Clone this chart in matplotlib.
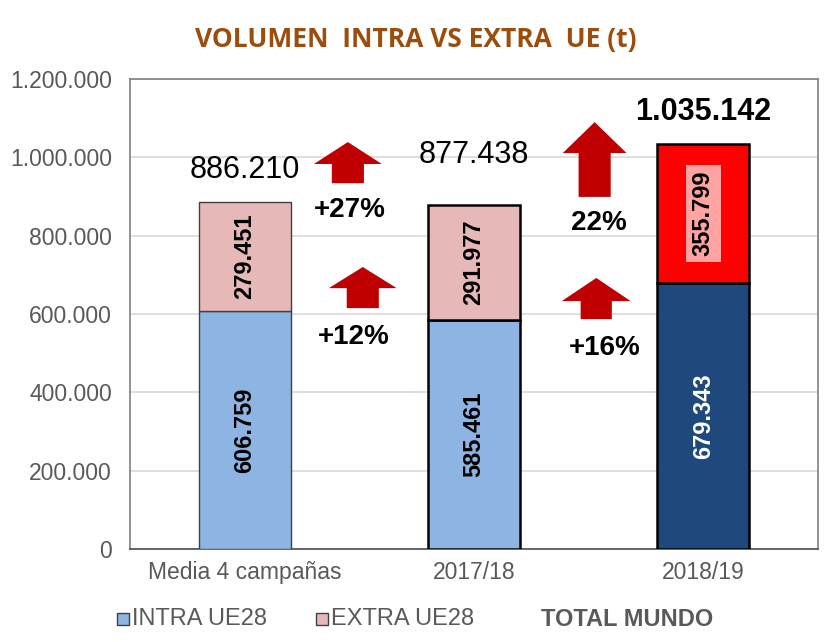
import matplotlib
matplotlib.use("Agg")
import matplotlib.pyplot as plt
from matplotlib.patches import Polygon, Rectangle
from matplotlib.ticker import FuncFormatter

plt.rcParams['font.family'] = ['Liberation Sans', 'DejaVu Sans']

categories = ["Media 4 campañas", "2017/18", "2018/19"]
intra = [606759, 585461, 679343]
extra = [279451, 291977, 355799]
totals = [886210, 877438, 1035142]
total_labels = ["886.210", "877.438", "1.035.142"]
pct_labels = ["+27%", "+12%", "22%", "+16%"]
legend_labels = ["INTRA UE28", "EXTRA UE28", "TOTAL MUNDO"]
title = "VOLUMEN  INTRA VS EXTRA  UE (t)"

intra_colors = ["#8EB4E3", "#8EB4E3", "#1F497D"]
extra_colors = ["#E6B9B8", "#E6B9B8", "#FF0000"]
edge_colors = ["#404040", "black", "black"]
edge_widths = [1.0, 1.8, 1.8]
gray = "#595959"

def fmt(v):
    return f"{int(round(v)):,}".replace(",", ".")

fig = plt.figure(figsize=(8.36, 6.42), dpi=100)
ax = fig.add_axes([0.1555, 0.1449, 0.823, 0.732])

x = list(range(len(categories)))
w = 0.40
for i in x:
    ax.bar(i, intra[i], w, color=intra_colors[i], edgecolor=edge_colors[i],
           linewidth=edge_widths[i], zorder=3)
    ax.bar(i, extra[i], w, bottom=intra[i], color=extra_colors[i],
           edgecolor=edge_colors[i], linewidth=edge_widths[i], zorder=3)
    ax.text(i, intra[i] / 2, fmt(intra[i]), rotation=90, ha='center', va='center',
            fontsize=17, fontweight='bold',
            color='white' if i == 2 else 'black', zorder=5)
    kw = {}
    if i == 2:
        kw['bbox'] = dict(boxstyle='square,pad=0.25', facecolor='#FFA3A3', edgecolor='none')
    ax.text(i, intra[i] + extra[i] / 2, fmt(extra[i]), rotation=90, ha='center',
            va='center', fontsize=17, fontweight='bold', color='black', zorder=5, **kw)

offsets = [32, 50, 32]
for i in x:
    ax.annotate(total_labels[i], xy=(i, totals[i]), xytext=(0, offsets[i]),
                textcoords='offset pixels', ha='center', va='center', fontsize=22,
                fontweight='bold' if i == 2 else 'normal', color='black', zorder=6)

# arrows: (center x, head half width, stem half width, tip y, head base y, bottom y)
arrows = [
    (0.450, 0.148, 0.070, 1039000, 983000, 934000),
    (0.515, 0.148, 0.070, 720000, 666000, 615000),
    (1.526, 0.139, 0.070, 1090000, 1011000, 899000),
    (1.533, 0.150, 0.068, 692000, 633000, 587000),
]
for cx, hw, sw, tip, base, bot in arrows:
    pts = [(cx, tip), (cx + hw, base), (cx + sw, base), (cx + sw, bot),
           (cx - sw, bot), (cx - sw, base), (cx - hw, base)]
    ax.add_patch(Polygon(pts, closed=True, facecolor='#C00000', edgecolor='none', zorder=4))

pct_pos = [(0.459, 865500), (0.476, 541000), (1.544, 832000), (1.570, 513000)]
for (px, py), lab in zip(pct_pos, pct_labels):
    ax.text(px, py, lab, ha='center', va='center', fontsize=20, fontweight='bold',
            color='black', zorder=6)

ax.set_xlim(-0.5, 2.5)
ax.set_ylim(0, 1200000)
ax.set_yticks(range(0, 1200001, 200000))
ax.yaxis.set_major_formatter(FuncFormatter(lambda v, p: fmt(v)))
ax.set_xticks(x)
ax.set_xticklabels(categories)
ax.tick_params(axis='y', length=0, pad=13, labelsize=16.5, labelcolor=gray)
ax.tick_params(axis='x', length=0, pad=9, labelsize=16.5, labelcolor=gray)
ax.grid(axis='y', color='#D9D9D9', linewidth=1.2, zorder=0)
ax.set_axisbelow(True)
for s in ['left', 'right', 'top']:
    ax.spines[s].set_color('#808080')
    ax.spines[s].set_linewidth(1.2)
ax.spines['bottom'].set_color('#595959')
ax.spines['bottom'].set_linewidth(1.3)

fig.text(0.497, 0.938, title, ha='center', va='center', fontsize=19,
         fontweight='bold', color='#9C4D0C', family=['Open Sans', 'DejaVu Sans'])

H = 642.0
Wd = 836.0
ly = 619
sq = 12
for xs, lab, col in [(117, legend_labels[0], intra_colors[0]), (316, legend_labels[1], extra_colors[0])]:
    fig.patches.append(Rectangle((xs / Wd, (H - ly - sq / 2) / H), sq / Wd, sq / H,
                                 transform=fig.transFigure, facecolor=col,
                                 edgecolor='#404040', linewidth=1.0))
    fig.text((xs + sq + 3) / Wd, (H - ly) / H, lab, ha='left', va='center',
             fontsize=17, color=gray)
fig.text(541 / Wd, (H - ly) / H, legend_labels[2], ha='left', va='center',
         fontsize=17, fontweight='bold', color=gray)

fig.savefig("out.png", dpi=100)
